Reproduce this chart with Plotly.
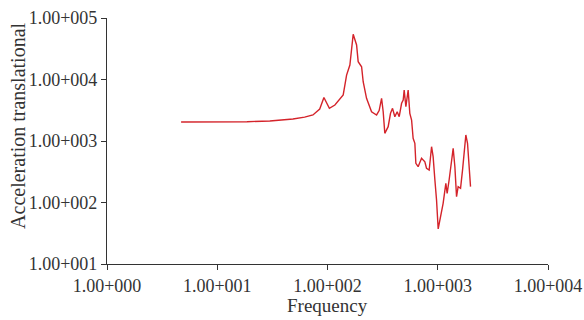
import plotly.graph_objects as go

freq = [4.7, 10, 18.6, 30, 48.6, 62, 73.8, 85, 92.8, 104, 116.7, 138.8, 149, 159.6, 171,
        183.6, 189.8, 203.8, 210.7, 226, 251, 278.7, 294, 309.4, 320, 331, 355, 373, 389,
        408, 428.5, 447, 470, 486, 496, 514, 539, 558, 579, 598, 620, 633, 664, 713, 764,
        791, 836, 879, 908, 942, 975, 1009, 1060, 1119, 1184, 1217, 1268, 1334, 1380, 1430,
        1481, 1531, 1610, 1678, 1735, 1798, 1862, 1927, 1983]
accel = [2040, 2040, 2060, 2120, 2280, 2450, 2650, 3300, 5090, 3400, 3850, 5600, 11800, 17200, 54300,
         36400, 19500, 16100, 9200, 4940, 2990, 2650, 3130, 4940, 2990, 1333, 1710, 2820, 3400,
         2480, 2990, 2480, 4100, 4640, 6750, 3610, 6750, 2820, 2190, 1107, 918, 434, 382, 524, 460,
         360, 337, 807, 556, 232, 110, 37.1, 58.7, 97, 205, 141, 232, 491, 760, 382,
         124, 181, 170, 337, 670, 1253, 918, 337, 181]

x_tickvals = [1, 10, 100, 1000, 10000]
x_ticktext = ["1.00+000", "1.00+001", "1.00+002", "1.00+003", "1.00+004"]
y_tickvals = [10, 100, 1000, 10000, 100000]
y_ticktext = ["1.00+001", "1.00+002", "1.00+003", "1.00+004", "1.00+005"]

FONT = "Liberation Serif"

fig = go.Figure()
fig.add_trace(go.Scatter(x=freq, y=accel, mode="lines",
                         line=dict(color="#d4232a", width=1.4), showlegend=False))

axis_common = dict(showgrid=False, zeroline=False, showline=True, linecolor="#333333",
                   linewidth=1.2, ticks="outside", ticklen=5, tickcolor="#333333",
                   tickwidth=1.2, automargin=False,
                   tickfont=dict(family=FONT, size=18, color="#333333"))

fig.update_xaxes(type="log", range=[0, 4], tickvals=x_tickvals, ticktext=x_ticktext,
                 **axis_common)
fig.update_yaxes(type="log", range=[1, 5], tickvals=y_tickvals, ticktext=y_ticktext,
                 **axis_common)

fig.update_layout(
    width=584, height=320,
    margin=dict(l=107, r=36, t=18, b=56),
    paper_bgcolor="white", plot_bgcolor="white",
    font=dict(family=FONT, color="#333333"),
    annotations=[
        dict(text="Frequency", xref="paper", yref="paper", x=0.5, y=-0.167,
             xanchor="center", yanchor="middle", showarrow=False,
             font=dict(family=FONT, size=19, color="#333333")),
        dict(text="Acceleration translational", xref="paper", yref="paper",
             x=-0.202, y=0.561, xanchor="center", yanchor="middle", textangle=-90,
             showarrow=False, font=dict(family=FONT, size=20, color="#333333")),
    ],
)

fig.write_html("out.html", config={"displayModeBar": False},
               post_script="document.body.style.margin='0';document.body.style.overflow='hidden';")
